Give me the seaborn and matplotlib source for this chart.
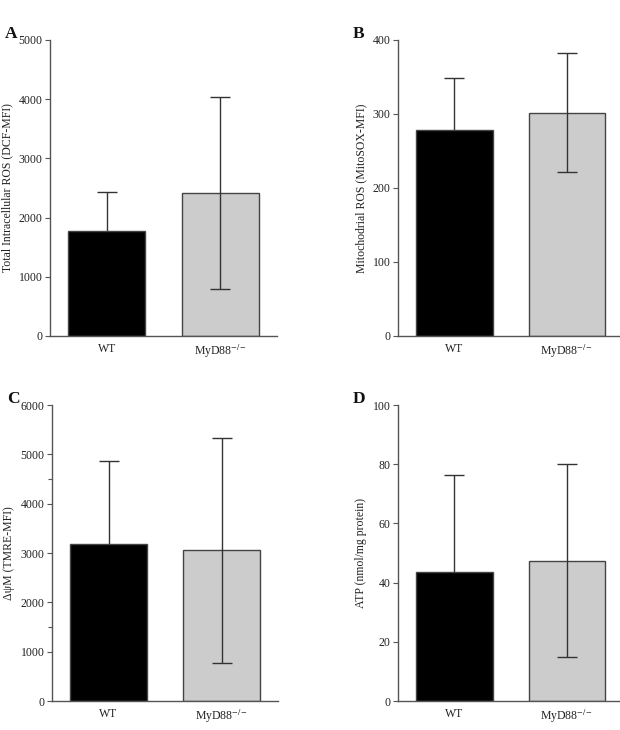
import matplotlib
matplotlib.use("Agg")
import matplotlib.pyplot as plt
import seaborn as sns
import pandas as pd
import numpy as np

sns.set_theme(style="ticks")
plt.rcParams['font.family'] = ['Liberation Serif', 'DejaVu Serif']
plt.rcParams['mathtext.fontset'] = 'stix'

groups = ["WT", "MyD88$^{-/-}$"]
colors = ["#000000", "#cccccc"]

ros_total_mean = [1770, 2410]
ros_total_err = [660, 1620]
ros_mito_mean = [279, 302]
ros_mito_err = [69, 80]
dpsi_mean = [3180, 3060]
dpsi_err = [1680, 2280]
atp_mean = [43.6, 47.3]
atp_err = [32.6, 32.6]

panels = [
    ("A", ros_total_mean, ros_total_err, "Total Intracellular ROS (DCF-MFI)", 5000, [0, 1000, 2000, 3000, 4000, 5000], [], (50, 40, 277, 336)),
    ("B", ros_mito_mean, ros_mito_err, "Mitochodrial ROS (MitoSOX-MFI)", 400, [0, 100, 200, 300, 400], [], (398, 40, 623, 336)),
    ("C", dpsi_mean, dpsi_err, "\u0394\u03c8M (TMRE-MFI)", 6000, [0, 1000, 2000, 3000, 4000, 5000, 6000], [1500, 4500], (52, 405, 278, 701)),
    ("D", atp_mean, atp_err, "ATP (nmol/mg protein)", 100, [0, 20, 40, 60, 80, 100], [], (398, 405, 623, 701)),
]

W, H = 620, 730
fig = plt.figure(figsize=(W / 100, H / 100), dpi=100)
spine_c = "#555555"
for letter, mean, err, ylabel, ymax, yticks, minor, (x0, y0, x1, y1) in panels:
    ax = fig.add_axes([x0 / W, 1 - y1 / H, (x1 - x0) / W, (y1 - y0) / H])
    df = pd.DataFrame({"group": groups, "value": mean})
    sns.barplot(data=df, x="group", y="value", hue="group", palette=colors,
                width=0.68, edgecolor="#444444", linewidth=1.0, legend=False, ax=ax,
                errorbar=None, zorder=2)
    for i in range(len(groups)):
        ax.errorbar([i], [mean[i]], yerr=[err[i]], fmt="none",
                    ecolor="#333333", elinewidth=1.0, capsize=7.5, capthick=1.0,
                    zorder=1 if i == 0 else 5)
    ax.set_xlim(-0.5, 1.5)
    ax.set_ylim(0, ymax)
    ax.set_yticks(yticks)
    if minor:
        ax.set_yticks(minor, minor=True)
        ax.tick_params(axis="y", which="minor", length=3, width=0.8, color=spine_c)
    ax.set_xlabel("")
    ax.set_ylabel(ylabel, fontsize=8.5, color="#222222", labelpad=4)
    ax.tick_params(axis="both", which="major", labelsize=8.5, length=3.5, width=0.8,
                   color=spine_c, labelcolor="#222222", pad=2)
    ax.tick_params(axis="x", length=0, pad=5)
    for s in ["top", "right"]:
        ax.spines[s].set_visible(False)
    for s in ["left", "bottom"]:
        ax.spines[s].set_color(spine_c)
        ax.spines[s].set_linewidth(1.0)
    fig.text((x0 - 45) / W, 1 - (y0 - 6) / H, letter, fontsize=12.5, fontweight="bold",
             ha="left", va="center", color="#111111")

fig.savefig("out.png", dpi=100)
